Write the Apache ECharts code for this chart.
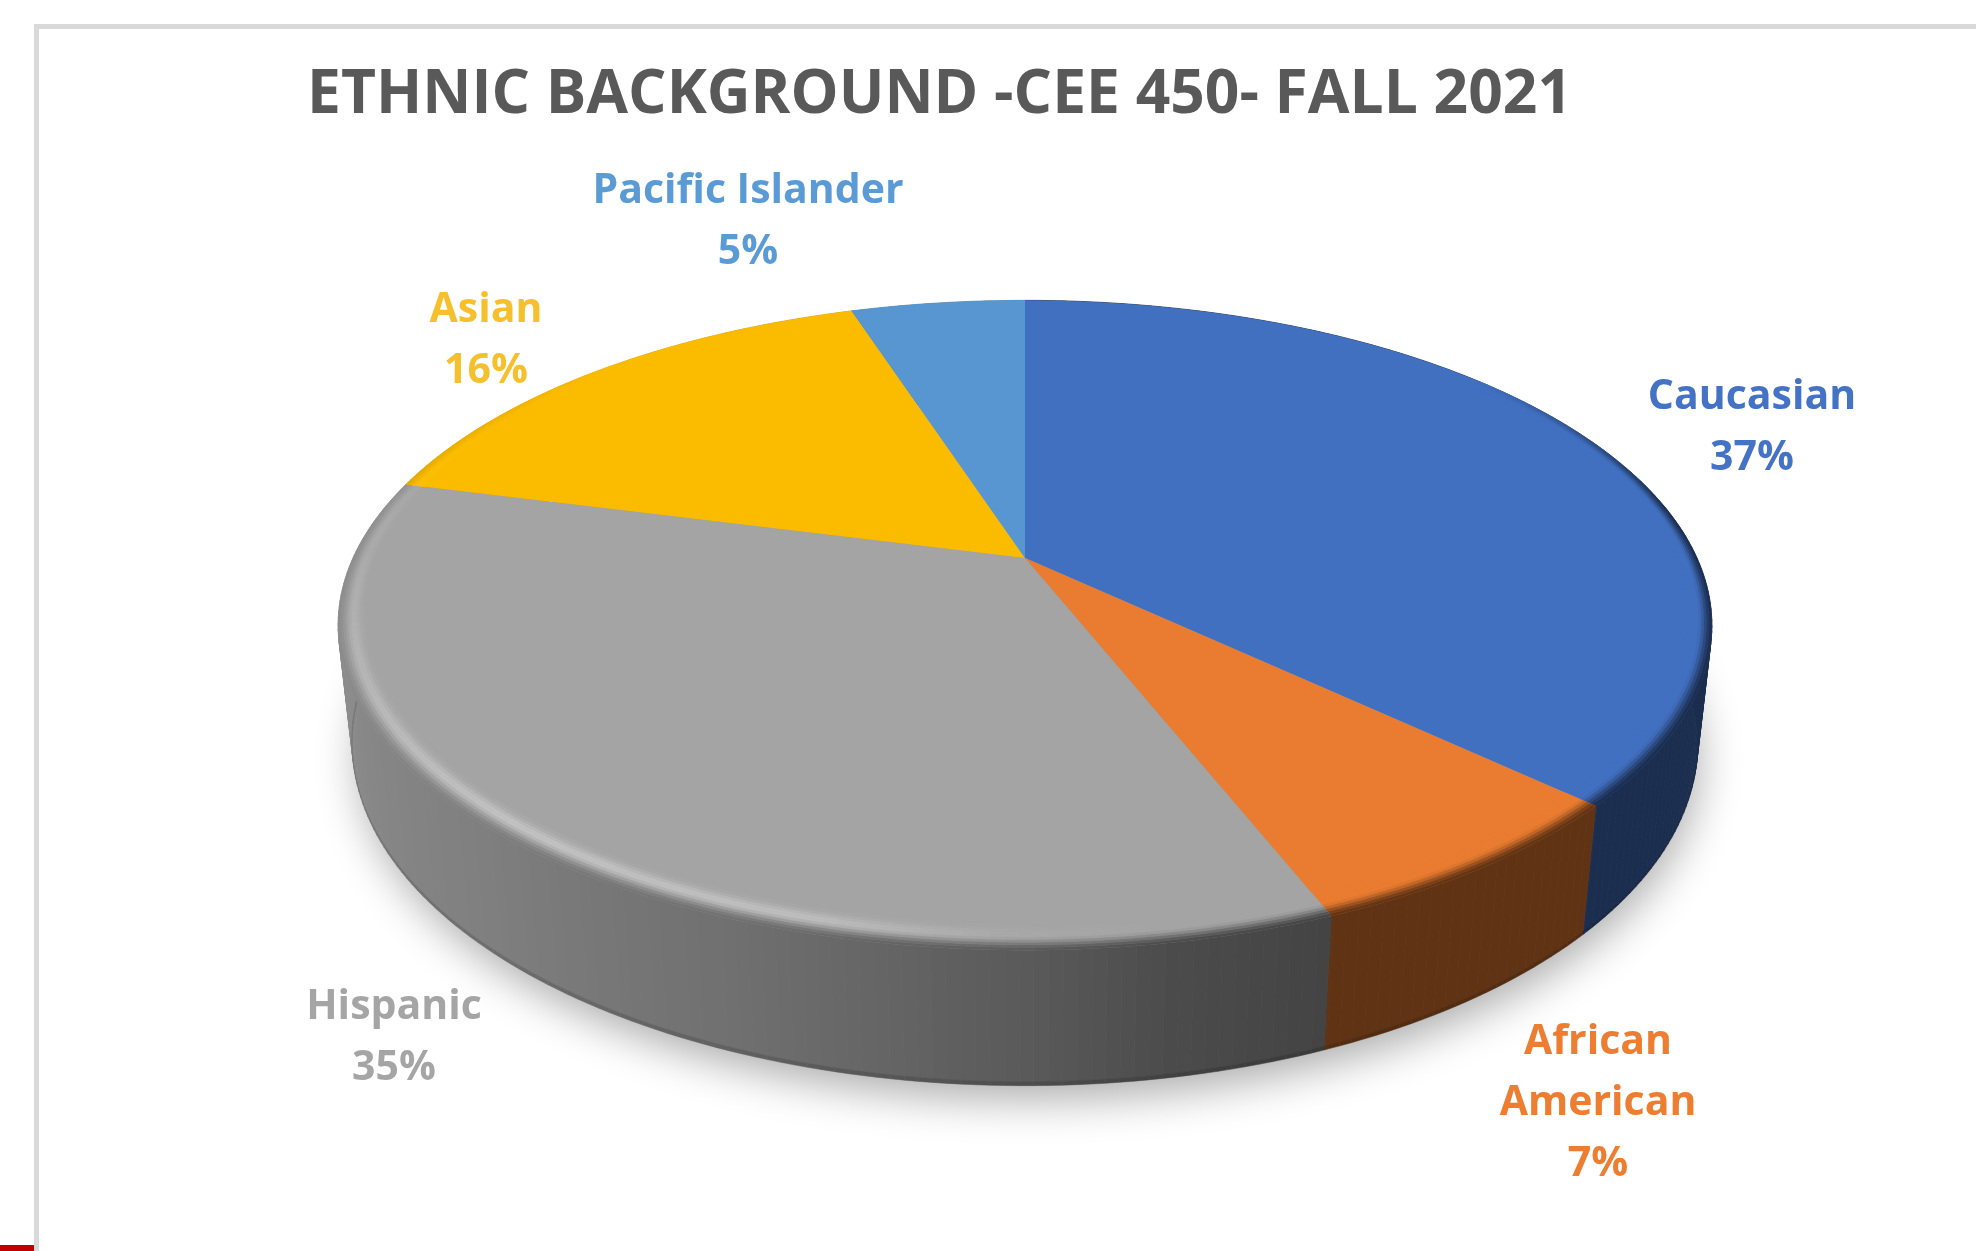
<!DOCTYPE html>
<html>
<head>
<meta charset="utf-8">
<title>Ethnic background</title>
<script src="https://cdn.jsdelivr.net/npm/echarts@6/dist/echarts.min.js"></script>
<style>
  html, body { margin: 0; padding: 0; background: #fff; }
  #chart { width: 1976px; height: 1251px; }
</style>
</head>
<body>
<div id="chart"></div>
<script>
// Class composition, clockwise from twelve o'clock
const chartTitle = 'ETHNIC BACKGROUND -CEE 450- FALL 2021';
const categories = ['Caucasian', 'African American', 'Hispanic', 'Asian', 'Pacific Islander'];
const percents = [37, 7, 35, 16, 5];
const labelLines = [['Caucasian'], ['African', 'American'], ['Hispanic'], ['Asian'], ['Pacific Islander']];
const sliceColors = ['#4270c1', '#e97c30', '#a4a4a4', '#fbbc00', '#5896d1'];
const textColors = ['#4472c4', '#ed7d31', '#a5a5a5', '#f6bf2c', '#5b9bd5'];
const labelCentres = [[1752, 428], [1598, 1103], [394, 1038], [486, 341], [748, 222]];

// Perspective camera for the disc
const cam = { cx: 1025, cy: 558, a: 672, b: 311, k: 0.207, c: 118, m: 0.02 };
const FONT = '"Open Sans", "Noto Sans", sans-serif';

function project(r, deg, h) {
  const t = deg * Math.PI / 180;
  const u = r * Math.sin(t), v = -r * Math.cos(t);
  const w = 1 - cam.k * v + cam.m * h;
  return [cam.cx + cam.a * u / w, cam.cy + (cam.b * v + cam.c * h) / w];
}

function lerpTable(table, x) {
  x = ((x % 360) + 360) % 360;
  if (x <= table[0][0]) return table[0][1];
  for (let i = 1; i < table.length; i++) {
    if (x <= table[i][0]) {
      const p = table[i - 1], q = table[i];
      return p[1] + (q[1] - p[1]) * (x - p[0]) / (q[0] - p[0]);
    }
  }
  return table[table.length - 1][1];
}

// Lighting around the wall, the rim weight and the rim highlight, all by angle
const wallShade = [[0, 0.41], [158, 0.41], [170, 0.46], [180, 0.55], [200, 0.68], [225, 0.78], [250, 0.84], [275, 0.87], [360, 0.87]];
const rimWeight = [[0, 0], [50, 0], [80, 1], [275, 1], [315, 0], [360, 0]];
const rimGlow = [[0, 0], [170, 0], [182, 0.06], [195, 0.28], [222, 0.34], [250, 0.2], [272, 0.08], [300, 0], [360, 0]];

const rgb = hex => [1, 3, 5].map(i => parseInt(hex.substr(i, 2), 16));
const css = c => 'rgb(' + c.map(v => Math.round(Math.max(0, Math.min(255, v)))).join(',') + ')';
const mix = (p, q, t) => p.map((v, i) => v + (q[i] - v) * t);
const smooth = (e0, e1, x) => { const t = Math.max(0, Math.min(1, (x - e0) / (e1 - e0))); return t * t * (3 - 2 * t); };

function sliceSpan(index) {
  let sum = 0, start = 0;
  percents.forEach((p, i) => { if (i < index) start += p; sum += p; });
  return [start / sum * 360, (start + percents[index]) / sum * 360];
}

function angleSteps(from, to, step) {
  const out = [];
  for (let d = from; d < to; d += step) out.push(d);
  out.push(to);
  return out;
}

function renderShadow(params, api) {
  if (params.dataIndex !== 0) return { type: 'group', children: [] };
  const pts = angleSteps(0, 360, 2).map(d => project(0.995, d, 1));
  return {
    type: 'polygon',
    shape: { points: pts },
    style: { fill: '#9a9a9a', shadowBlur: 44, shadowColor: 'rgba(0,0,0,0.33)', shadowOffsetY: 16, shadowOffsetX: 4 },
    silent: true
  };
}

function renderWall(params, api) {
  const i = api.value(1);
  const [from, to] = sliceSpan(i);
  const base = rgb(sliceColors[i]);
  const children = [];
  const steps = angleSteps(from, to, 1);
  for (let s = 0; s < steps.length - 1; s++) {
    const d0 = steps[s], d1 = steps[s + 1];
    const shade = lerpTable(wallShade, (d0 + d1) / 2);
    const col = css(base.map(v => v * shade));
    const edge = css(base.map(v => v * shade * 0.86));
    children.push({
      type: 'polygon',
      shape: { points: [project(1, d0, 0), project(1, d1, 0), project(1, d1, 0.97), project(1, d0, 0.97)] },
      style: { fill: col, stroke: col, lineWidth: 0.7 },
      silent: true
    });
    children.push({
      type: 'polygon',
      shape: { points: [project(1, d0, 0.97), project(1, d1, 0.97), project(1, d1, 1), project(1, d0, 1)] },
      style: { fill: edge, stroke: edge, lineWidth: 0.5 },
      silent: true
    });
  }
  return { type: 'group', children };
}

function rimColour(base, deg, t) {
  const weight = lerpTable(rimWeight, deg);
  const shade = lerpTable(wallShade, deg);
  const col = mix(base, base.map(v => v * shade), (1 - smooth(0, 0.55, t)) * weight);
  const bump = Math.exp(-Math.pow((t - 0.6) / 0.24, 2));
  return mix(col, [255, 255, 255], lerpTable(rimGlow, deg) * bump);
}

function rimWidth(deg) {
  const v = -Math.cos(deg * Math.PI / 180);
  return 0.034 + 0.02 * Math.max(0, v);
}

function renderFace(params, api) {
  const i = api.value(1);
  const [from, to] = sliceSpan(i);
  const base = rgb(sliceColors[i]);
  const arc = angleSteps(from, to, 1).map(d => project(1, d, 0));
  const children = [{
    type: 'polygon',
    shape: { points: [[cam.cx, cam.cy]].concat(arc) },
    style: { fill: sliceColors[i] },
    silent: true
  }];
  const bands = 10;
  const rimFrom = Math.max(from, 50), rimTo = Math.min(to, 315);
  if (rimTo > rimFrom) {
    const steps = angleSteps(rimFrom, rimTo, 1);
    for (let s = 0; s < steps.length - 1; s++) {
      const d0 = steps[s], d1 = steps[s + 1], dm = (d0 + d1) / 2;
      for (let n = 0; n < bands; n++) {
        const t0 = n / bands, t1 = (n + 1) / bands;
        const w0 = rimWidth(d0), w1 = rimWidth(d1);
        const col = css(rimColour(base, dm, (t0 + t1) / 2));
        children.push({
          type: 'polygon',
          shape: { points: [project(1 - w0 * t0, d0, 0), project(1 - w1 * t0, d1, 0), project(1 - w1 * t1, d1, 0), project(1 - w0 * t1, d0, 0)] },
          style: { fill: col, stroke: col, lineWidth: 0.5 },
          silent: true
        });
      }
    }
  }
  return { type: 'group', children };
}

function renderLabel(params, api) {
  const i = api.value(1);
  const lines = labelLines[i].concat([api.value(0) + '%']);
  const [x, y] = labelCentres[i];
  return {
    type: 'text',
    x, y,
    silent: true,
    style: {
      text: lines.join('\n'),
      fill: textColors[i],
      font: '700 41px ' + FONT,
      lineHeight: 61,
      align: 'center',
      verticalAlign: 'middle'
    }
  };
}

const rows = categories.map((name, i) => [percents[i], i, name]);
const layer = (name, z, renderItem) => ({
  type: 'custom', name, z, coordinateSystem: 'none',
  renderItem, data: rows, animation: false, silent: true,
  dimensions: ['percent', 'index', 'name']
});

const chart = echarts.init(document.getElementById('chart'), null, { renderer: 'canvas' });
chart.setOption({
  animation: false,
  backgroundColor: '#ffffff',
  title: {
    text: chartTitle,
    left: 302,
    top: 60,
    textStyle: { color: '#595959', fontFamily: FONT, fontWeight: 700, fontSize: 60.5 }
  },
  graphic: [
    { type: 'rect', shape: { x: 34, y: 24, width: 1942, height: 5 }, style: { fill: '#d9d9d9' }, silent: true },
    { type: 'rect', shape: { x: 34, y: 24, width: 5, height: 1227 }, style: { fill: '#d9d9d9' }, silent: true },
    { type: 'rect', shape: { x: 0, y: 1245, width: 34, height: 6 }, style: { fill: '#c00000' }, silent: true }
  ],
  series: [
    layer('shadow', 1, renderShadow),
    layer('wall', 2, renderWall),
    layer('face', 3, renderFace),
    layer('labels', 4, renderLabel)
  ]
});
</script>
</body>
</html>
